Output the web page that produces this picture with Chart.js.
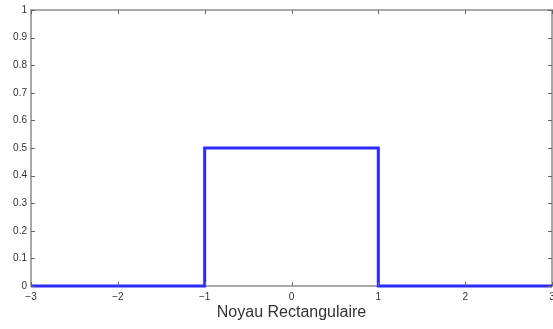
<!DOCTYPE html>
<html>
<head>
<meta charset="utf-8">
<script src="https://cdn.jsdelivr.net/npm/chart.js@4"></script>
<style>
  html, body { margin: 0; padding: 0; background: #fff; }
  #wrap { width: 553px; height: 329px; }
</style>
</head>
<body>
<div id="wrap"><canvas id="kernelChart" width="553" height="329"></canvas></div>
<script>
// rectangular kernel, step outline
const xValues = [-3, -1, -1, 1, 1, 3];
const yValues = [0, 0, 0.5, 0.5, 0, 0];
const xTicks = [-3, -2, -1, 0, 1, 2, 3];
const yTicks = [0, 0.1, 0.2, 0.3, 0.4, 0.5, 0.6, 0.7, 0.8, 0.9, 1];
const xTitle = 'Noyau Rectangulaire';

const points = xValues.map((x, i) => ({ x: x, y: yValues[i] }));

// MATLAB style box with inward tick marks
const boxTicks = {
    id: 'boxTicks',
    beforeDatasetsDraw(chart) {
        const { ctx, chartArea: a } = chart;
        ctx.save();
        ctx.strokeStyle = '#a8a8a8';
        ctx.lineWidth = 2;
        ctx.strokeRect(a.left, a.top, a.right - a.left, a.bottom - a.top);
        ctx.restore();
    },
    afterDraw(chart) {
        const { ctx, chartArea: a, scales } = chart;
        ctx.save();
        ctx.strokeStyle = '#666';
        ctx.lineWidth = 1;
        const len = 4;
        ctx.beginPath();
        xTicks.forEach(v => {
            const px = Math.round(scales.x.getPixelForValue(v)) + 0.5;
            ctx.moveTo(px, a.bottom); ctx.lineTo(px, a.bottom - len);
            ctx.moveTo(px, a.top); ctx.lineTo(px, a.top + len);
        });
        yTicks.forEach(v => {
            const py = Math.round(scales.y.getPixelForValue(v)) + 0.5;
            ctx.moveTo(a.left, py); ctx.lineTo(a.left + len, py);
            ctx.moveTo(a.right, py); ctx.lineTo(a.right - len, py);
        });
        ctx.stroke();
        ctx.restore();
    }
};

const tickFont = { family: 'Liberation Sans, Arial, sans-serif', size: 10 };

new Chart(document.getElementById('kernelChart'), {
    type: 'scatter',
    data: {
        datasets: [{
            data: points,
            showLine: true,
            borderColor: '#2b2bff',
            borderWidth: 3,
            pointRadius: 0,
            fill: false,
            clip: false
        }]
    },
    options: {
        responsive: false,
        animation: false,
        layout: { padding: { top: 10, right: 1, left: 0, bottom: 7 } },
        plugins: { legend: { display: false }, tooltip: { enabled: false } },
        scales: {
            x: {
                type: 'linear',
                min: -3, max: 3,
                afterBuildTicks: s => { s.ticks = xTicks.map(v => ({ value: v })); },
                afterFit: s => { s.height = 36; s.paddingLeft = 0; s.paddingRight = 0; },
                grid: { display: false, drawTicks: false },
                border: { display: false },
                ticks: {
                    color: '#333', font: tickFont, padding: 5,
                    maxRotation: 0,
                    callback: v => String(v).replace('-', '\u2212')
                },
                title: {
                    display: true, text: xTitle, color: '#333',
                    font: { family: 'Liberation Sans, Arial, sans-serif', size: 16 },
                    padding: { top: 0, bottom: 0 }
                }
            },
            y: {
                type: 'linear',
                min: 0, max: 1,
                afterBuildTicks: s => { s.ticks = yTicks.map(v => ({ value: v })); },
                afterFit: s => { s.width = 31; s.paddingTop = 0; s.paddingBottom = 0; },
                grid: { display: false, drawTicks: false },
                border: { display: false },
                ticks: { color: '#333', font: tickFont, padding: 4, callback: v => String(v) }
            }
        }
    },
    plugins: [boxTicks]
});
</script>
</body>
</html>
